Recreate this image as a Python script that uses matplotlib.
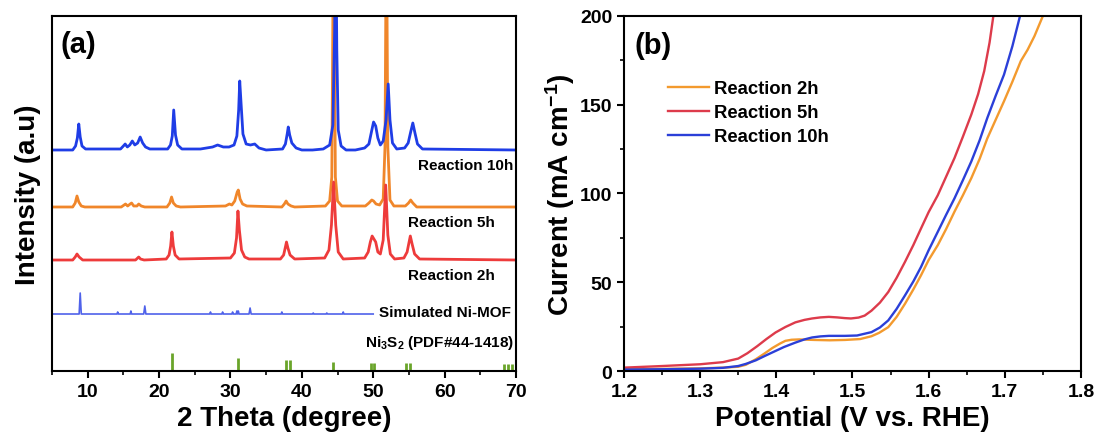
import matplotlib
matplotlib.use('Agg')
import matplotlib.pyplot as plt
import numpy as np
from matplotlib.ticker import MultipleLocator

plt.rcParams['font.family'] = ['Liberation Sans', 'DejaVu Sans']
plt.rcParams['font.weight'] = 'bold'
plt.rcParams['axes.labelweight'] = 'bold'
plt.rcParams['mathtext.fontset'] = 'custom'
plt.rcParams['mathtext.rm'] = 'Liberation Sans:bold'
plt.rcParams['mathtext.it'] = 'Liberation Sans:bold:italic'
plt.rcParams['mathtext.bf'] = 'Liberation Sans:bold'
plt.rcParams['axes.linewidth'] = 1.5

# ---- (a) XRD patterns: (2theta, intensity above own baseline) ----
xrd_10h = [(5.0, 0), (7.9, 0), (8.3, 4), (8.55, 12), (8.75, 26), (8.95, 13), (9.2, 4), (9.7, 1),
           (14.6, 1), (15.0, 4), (15.25, 6), (15.55, 3), (15.9, 5), (16.25, 9), (16.6, 5),
           (17.0, 7), (17.35, 13), (17.7, 7), (18.1, 3), (18.7, 1),
           (21.2, 1), (21.6, 5), (21.85, 14), (22.05, 40), (22.3, 15), (22.6, 5), (23.2, 1),
           (25.8, 1), (27.5, 3), (28.2, 5), (29.0, 3), (29.8, 3), (30.5, 5), (30.9, 14),
           (31.15, 40), (31.3, 69), (31.5, 45), (31.75, 16), (32.2, 6), (32.8, 5), (33.4, 6),
           (34.0, 2), (35.0, 0),
           (37.3, 1), (37.7, 6), (37.95, 16), (38.1, 23), (38.3, 15), (38.6, 7), (39.2, 2), (40.0, 0),
           (41.5, 0), (43.0, 1), (43.9, 5), (44.35, 25), (44.6, 120), (44.72, 260), (44.9, 100),
           (45.1, 20), (45.5, 4), (46.2, 0),
           (47.5, 0), (48.8, 2), (49.4, 6), (49.75, 18), (50.05, 28), (50.35, 24), (50.65, 12),
           (51.0, 5), (51.4, 9), (51.8, 30), (52.1, 66), (52.35, 30), (52.7, 7), (53.3, 1),
           (54.4, 2), (54.9, 7), (55.25, 18), (55.55, 27), (55.85, 17), (56.2, 6), (56.9, 1),
           (70.0, 0)]

xrd_5h = [(5.0, 0), (7.9, 0), (8.25, 4), (8.5, 11), (8.75, 5), (9.1, 1), (9.6, 0),
          (14.7, 0), (15.1, 2), (15.3, 3), (15.6, 1), (15.95, 3), (16.15, 4), (16.45, 1),
          (16.9, 1), (17.15, 3), (17.5, 1), (18.0, 0),
          (21.1, 0), (21.5, 4), (21.75, 10), (22.0, 4), (22.4, 1), (23.0, 0),
          (29.3, 1), (29.85, 3), (30.2, 2), (30.6, 6), (30.95, 15), (31.1, 17), (31.35, 8),
          (31.7, 3), (32.3, 1),
          (37.2, 0), (37.55, 3), (37.8, 6), (38.05, 3), (38.5, 1), (39.0, 0),
          (43.3, 1), (43.9, 6), (44.2, 30), (44.45, 300), (44.7, 30), (45.0, 6), (45.6, 1),
          (48.9, 1), (49.4, 4), (49.8, 7), (50.05, 6), (50.4, 3), (50.9, 2),
          (51.4, 8), (51.65, 60), (51.85, 300), (52.05, 60), (52.35, 7), (52.9, 1),
          (54.5, 1), (54.95, 4), (55.25, 7), (55.55, 4), (56.1, 0), (70.0, 0)]

xrd_2h = [(5.0, 0), (7.9, 0), (8.25, 3), (8.5, 6), (8.8, 3), (9.3, 0),
          (16.7, 0), (17.0, 2), (17.15, 3), (17.4, 1), (17.9, 0),
          (21.0, 1), (21.4, 5), (21.62, 14), (21.8, 28), (22.0, 14), (22.25, 5), (22.8, 1),
          (30.0, 2), (30.55, 7), (30.85, 22), (31.05, 49), (31.25, 30), (31.55, 10), (32.0, 3),
          (32.6, 1),
          (37.0, 1), (37.45, 5), (37.7, 13), (37.85, 18), (38.05, 12), (38.35, 5), (39.0, 1),
          (43.2, 2), (43.8, 10), (44.15, 35), (44.45, 78), (44.75, 35), (45.1, 8), (45.8, 1),
          (48.8, 2), (49.3, 8), (49.6, 18), (49.85, 24), (50.1, 21), (50.35, 18), (50.65, 8),
          (51.0, 6), (51.4, 20), (51.75, 75), (52.05, 25), (52.4, 6), (53.0, 1),
          (54.3, 2), (54.75, 8), (55.0, 17), (55.2, 24), (55.45, 16), (55.8, 6), (56.5, 1),
          (70.0, 0)]

xrd_mof = [(5.0, 0), (8.8, 0), (8.95, 21), (9.1, 0), (14.1, 0), (14.2, 2), (14.3, 0),
           (15.95, 0), (16.05, 3), (16.15, 0), (17.85, 0), (18.0, 8), (18.15, 0),
           (27.1, 0), (27.2, 2), (27.3, 0), (28.8, 0), (28.9, 2), (29.0, 0),
           (30.2, 0), (30.3, 2), (30.4, 0), (30.8, 0), (30.9, 3), (31.0, 0), (31.1, 3), (31.2, 0),
           (32.6, 0), (32.75, 6), (32.9, 0), (37.1, 0), (37.2, 2), (37.3, 0),
           (41.5, 0), (41.6, 1), (41.7, 0), (43.4, 0), (43.5, 1), (43.6, 0),
           (45.7, 0), (45.8, 2), (45.9, 0), (50.0, 0)]

ni3s2_pos = [21.75, 31.1, 37.8, 38.3, 44.35, 49.7, 50.1, 54.6, 55.2, 68.3, 68.9, 69.4]
ni3s2_int = [18, 13, 11, 11, 9.5, 8.5, 8.5, 8.5, 8.5, 7, 7, 7]

# ---- (b) LSV curves ----
v_2h = [1.20, 1.25, 1.30, 1.33, 1.35, 1.36, 1.373, 1.385, 1.395, 1.405, 1.412, 1.42, 1.43,
        1.45, 1.47, 1.49, 1.51, 1.525, 1.535, 1.547, 1.558, 1.569, 1.58, 1.59, 1.60, 1.612,
        1.623, 1.634, 1.645, 1.656, 1.667, 1.677, 1.688, 1.699, 1.71, 1.721, 1.73, 1.739, 1.75]
j_2h = [1.0, 1.2, 1.5, 1.9, 2.4, 3.5, 6.6, 10, 13, 15.5, 17, 17.6, 17.8,
        17.5, 17.3, 17.5, 18, 19.6, 21.5, 24.7, 30.5, 37.9, 46, 53.9, 62.5, 70.9,
        80, 89.8, 99, 108.6, 119.5, 131, 141.5, 152, 163, 174.6, 181, 188.7, 200]

v_5h = [1.20, 1.25, 1.30, 1.33, 1.35, 1.362, 1.375, 1.387, 1.399, 1.412, 1.425, 1.437, 1.447,
        1.458, 1.469, 1.48, 1.49, 1.498, 1.508, 1.516, 1.525, 1.536, 1.547, 1.558, 1.569, 1.58,
        1.59, 1.60, 1.612, 1.623, 1.634, 1.645, 1.656, 1.665, 1.673, 1.68, 1.685]
j_5h = [1.9, 2.8, 3.8, 5.0, 7.0, 10, 14, 18, 21.7, 24.8, 27.4, 28.8, 29.6,
        30.2, 30.5, 30.2, 29.8, 29.6, 30.1, 31.2, 34, 38.5, 44.5, 52.5, 61.5, 71,
        80.3, 89.5, 99, 109.5, 120, 132, 144.4, 156, 169, 185, 200]

v_10h = [1.20, 1.25, 1.30, 1.33, 1.35, 1.36, 1.373, 1.385, 1.399, 1.41, 1.425, 1.437, 1.447,
         1.458, 1.469, 1.49, 1.506, 1.525, 1.536, 1.547, 1.558, 1.569, 1.58, 1.59, 1.60,
         1.612, 1.623, 1.634, 1.645, 1.656, 1.667, 1.677, 1.688, 1.699, 1.71, 1.72]
j_10h = [0.8, 1.0, 1.3, 1.8, 2.8, 4.0, 6.0, 8.5, 11.3, 13.5, 16, 17.8, 18.9,
         19.5, 19.8, 19.8, 20, 21.9, 24.5, 28.5, 35, 42.6, 50.5, 58.6, 68,
         78.4, 88, 97.3, 107.5, 118, 130, 142.5, 155, 167, 183, 200]

c_orange = '#f0862a'
c_red = '#ee3b3b'
c_blue = '#1f3de6'

fig = plt.figure(figsize=(11.02, 4.39), dpi=100)
ax1 = fig.add_axes([0.0472, 0.1526, 0.421, 0.8087])
ax2 = fig.add_axes([0.5662, 0.1526, 0.4147, 0.8087])

# panel (a)
offsets = {'2h': 111, '5h': 164, '10h': 221, 'mof': 57}
for pts, col, off in [(xrd_5h, c_orange, offsets['5h']),
                      (xrd_2h, c_red, offsets['2h']),
                      (xrd_10h, c_blue, offsets['10h'])]:
    arr = np.array(pts)
    ax1.plot(arr[:, 0], arr[:, 1] + off, color=col, lw=2.0)
arr = np.array(xrd_mof)
ax1.plot(arr[:, 0], arr[:, 1] + offsets['mof'], color='#4f62ea', lw=1.2)
ax1.vlines(ni3s2_pos, 0, ni3s2_int, color='#6aa52a', lw=2)

ax1.set_xlim(5, 70)
ax1.set_ylim(0, 355)
ax1.set_yticks([])
ax1.xaxis.set_major_locator(MultipleLocator(10))
ax1.xaxis.set_minor_locator(MultipleLocator(5))
ax1.tick_params(axis='x', which='major', length=5, width=1.5, labelsize=14, direction='out')
ax1.tick_params(axis='x', which='minor', length=3, width=1.2, direction='out')
ax1.set_xlabel('2 Theta (degree)', fontsize=20)
ax1.set_ylabel('Intensity (a.u)', fontsize=20, labelpad=8)
ax1.text(0.019, 0.92, '(a)', transform=ax1.transAxes, fontsize=21, va='center', ha='left')

lab_kw = dict(ha='right', va='center', fontsize=11)
ax1.text(69.6, 206, 'Reaction 10h', **lab_kw)
ax1.text(67.0, 149, 'Reaction 5h', **lab_kw)
ax1.text(67.0, 96, 'Reaction 2h', **lab_kw)
ax1.text(69.3, 59, 'Simulated Ni-MOF', **lab_kw)
ax1.text(69.7, 29, 'Ni$_3$S$_2$ (PDF#44-1418)', **lab_kw)

# panel (b)
ax2.plot(v_2h, j_2h, color='#f39a2e', lw=1.7, label='Reaction 2h')
ax2.plot(v_5h, j_5h, color='#dd3b4b', lw=1.7, label='Reaction 5h')
ax2.plot(v_10h, j_10h, color='#2b3fd8', lw=1.7, label='Reaction 10h')
ax2.set_xlim(1.2, 1.8)
ax2.set_ylim(0, 200)
ax2.xaxis.set_major_locator(MultipleLocator(0.1))
ax2.xaxis.set_minor_locator(MultipleLocator(0.05))
ax2.yaxis.set_major_locator(MultipleLocator(50))
ax2.yaxis.set_minor_locator(MultipleLocator(25))
ax2.tick_params(which='major', length=5, width=1.5, labelsize=14, direction='out')
ax2.tick_params(which='minor', length=3, width=1.2, direction='out')
ax2.set_xlabel('Potential (V vs. RHE)', fontsize=20)
ax2.set_ylabel('Current (mA cm$^{-1}$)', fontsize=20, labelpad=2)
ax2.text(0.024, 0.918, '(b)', transform=ax2.transAxes, fontsize=21, va='center', ha='left')
ax2.legend(loc='upper left', bbox_to_anchor=(0.08, 0.84), frameon=False, fontsize=13.3,
           handlelength=2.2, handletextpad=0.3, labelspacing=0.38, borderaxespad=0)

fig.savefig('out.png', dpi=100)
